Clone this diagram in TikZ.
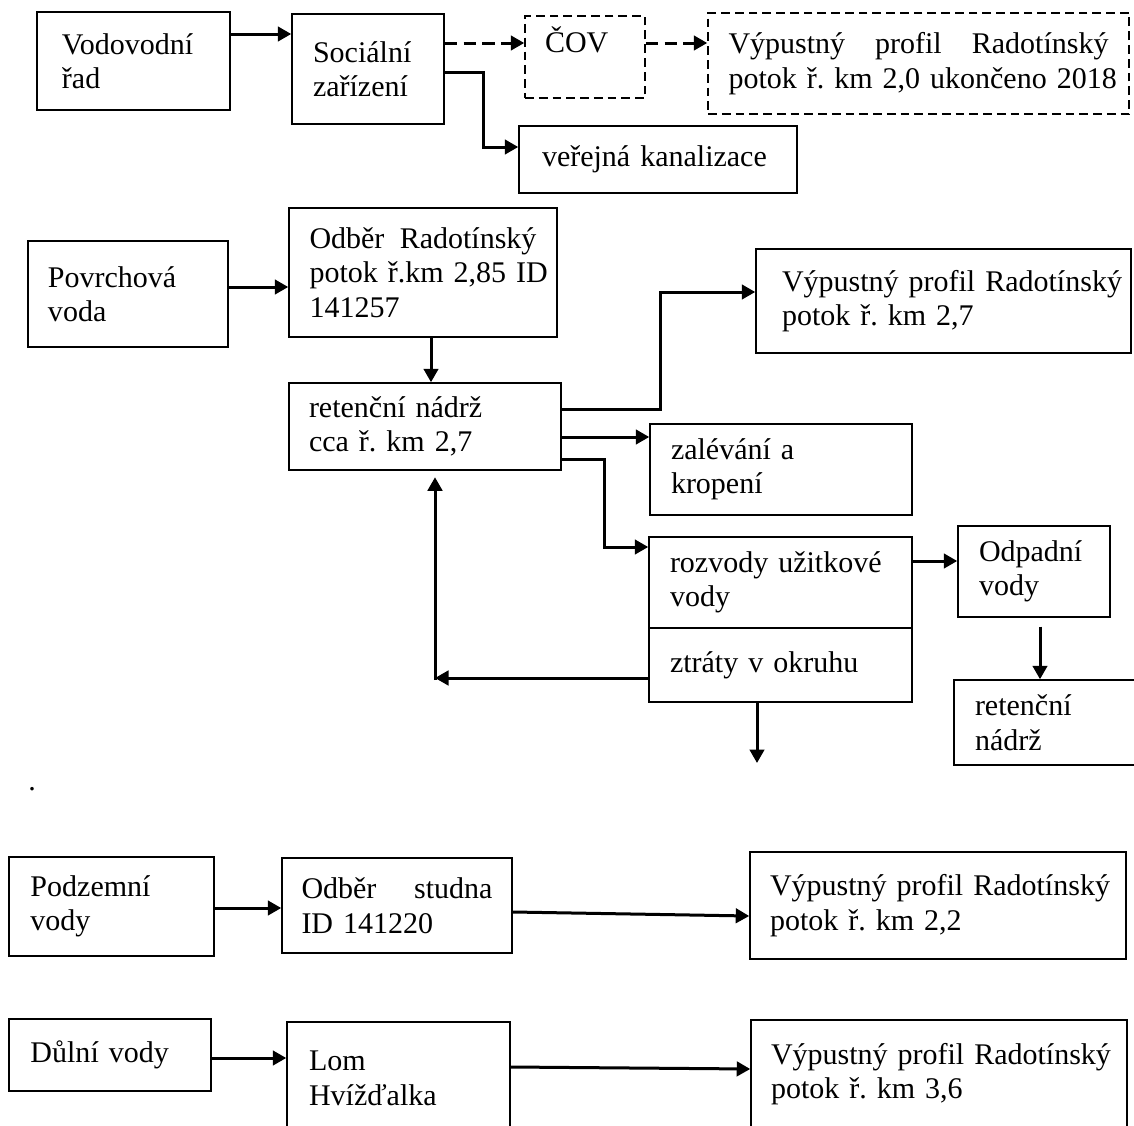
\documentclass[tikz,border=0pt]{standalone}
\usepackage{fontspec}
\setmainfont{Liberation Serif}
\usetikzlibrary{arrows.meta}
\def\oneline#1{\makebox[\hsize][l]{#1}}
\tikzset{
	box/.style={draw, line width=0.6pt, inner sep=0pt, align=left},
	dbox/.style={box, dash pattern=on 3.5pt off 2pt},
	arr/.style={-{Triangle[length=5.4pt,width=5.8pt]}, line width=1.2pt},
	darr/.style={arr, dash pattern=on 5pt off 2.5pt}
}

\begin{document}
\begin{tikzpicture}[x=0.4pt, y=-0.4pt, font=\fontsize{12}{13.8}\selectfont\frenchspacing]
			%%%%% START %%%%%
			\useasboundingbox (0,0) rectangle (1134,1126);
			
			% vodovodni rad
			\node[box, minimum width=77.2pt, minimum height=39.2pt, text width=57.2pt] (vod) at (133.5,61) {Vodovodní\\řad};
			\node[box, minimum width=60.8pt, minimum height=44pt, text width=44pt] (soc) at (368,69) {Sociální\\zařízení};
			\node[dbox, minimum width=48pt, minimum height=32.8pt, text width=32pt, text depth=13.6pt] (cov) at (585,57) {ČOV};
			\node[dbox, minimum width=168.4pt, minimum height=40.4pt, text width=152pt] (vyp1) at (918.5,63.5) {Výpustný \hfill profil \hfill Radotínský\\\oneline{potok ř. km 2,0 ukončeno 2018}};
			\node[box, minimum width=111.2pt, minimum height=26.8pt, text width=92.8pt] (ver) at (658,159.5) {\oneline{veřejná kanalizace}};
			
			\draw[arr] (vod.east |- 0,34) -- (soc.west |- 0,34);
			\draw[darr] (soc.east |- 0,43) -- (cov.west |- 0,43);
			\draw[darr] (cov.east |- 0,43) -- (vyp1.west |- 0,43);
			\draw[arr] (soc.east |- 0,72) -| (483,147) -- (ver.west |- 0,147);
			
			% povrchova voda
			\node[box, minimum width=80pt, minimum height=42.4pt, text width=64pt] (pov) at (128,294) {Povrchová\\voda};
			\node[box, minimum width=107.2pt, minimum height=51.6pt, text width=90.8pt] (odb) at (423,272.5) {Odběr \hfill Radotínský\\\oneline{potok ř.km 2,85 ID}\\141257};
			\node[box, minimum width=108.8pt, minimum height=34.8pt, text width=92.8pt] (ret) at (425,426.5) {\oneline{retenční nádrž}\\cca ř. km 2,7};
			\node[box, minimum width=150pt, minimum height=41.6pt, text width=129.2pt] (vyp2) at (943.5,301) {\oneline{Výpustný profil Radotínský}\\potok ř. km 2,7};
			\node[box, minimum width=104.8pt, minimum height=36.4pt, text width=88pt] (zal) at (781,469.5) {zalévání a\\kropení};
			\node[box, minimum width=105.2pt, minimum height=36.4pt, text width=88.4pt] (roz) at (780.5,582.5) {\oneline{rozvody užitkové}\\vody};
			\node[box, minimum width=105.2pt, minimum height=29.6pt, text width=88.4pt] (ztr) at (780.5,665) {\oneline{ztráty v okruhu}};
			\node[box, minimum width=60.8pt, minimum height=36.4pt, text width=44pt] (odp) at (1034,571.5) {Odpadní\\vody};
			\node[box, minimum width=86.4pt, minimum height=34pt, text width=69.6pt] (ret2) at (1062,722.5) {retenční\\nádrž};
			
			\draw[arr] (pov.east |- 0,287) -- (odb.west |- 0,287);
			\draw[arr] (odb.south -| 431,0) -- (ret.north -| 431,0);
			\draw[arr] (ret.east |- 0,409) -| (660,292) -- (vyp2.west |- 0,292);
			\draw[arr] (ret.east |- 0,437) -- (zal.west |- 0,437);
			\draw[arr] (ret.east |- 0,459) -| (604,547) -- (roz.west |- 0,547);
			\draw[arr] (roz.east |- 0,561) -- (odp.west |- 0,561);
			\draw[arr, shorten <=3.5pt] (odp.south -| 1040,0) -- (ret2.north -| 1040,0);
			
			\coordinate (loop) at (435,678);
			\coordinate (lossout) at (757,763);
			\draw[arr] (ztr.west |- loop) -- (loop);
			\draw[arr, shorten >=2.6pt] ([yshift=-0.8pt]loop) -- (ret.south -| loop);
			\draw[arr] (ztr.south -| lossout) -- (lossout);
			
			\node (dot) at (32,789) {.};
			
			% podzemni vody
			\node[box, minimum width=82pt, minimum height=39.6pt, text width=64.8pt] (pod) at (111.5,906.5) {Podzemní\\vody};
			\node[box, minimum width=92pt, minimum height=38pt, text width=76.4pt] (ods) at (397,905.5) {Odběr \hfill studna\\ID 141220};
			\node[box, minimum width=150.4pt, minimum height=42.8pt, text width=134.4pt] (vyp3) at (938,905.5) {\oneline{Výpustný profil Radotínský}\\potok ř. km 2,2};
			
			\draw[arr] (pod.east |- 0,908) -- (ods.west |- 0,908);
			\draw[arr] (ods.east |- 0,912) -- (vyp3.west |- 0,916);
			
			% dulni vody
			\node[box, minimum width=80.8pt, minimum height=28.8pt, text width=63.6pt] (dul) at (110,1055) {\oneline{Důlní vody}};
			\node[box, minimum width=89.2pt, minimum height=45.2pt, text width=71.6pt] (lom) at (398.5,1078.5) {Lom\\Hvížďalka};
			\node[box, minimum width=150.4pt, minimum height=43.2pt, text width=134.4pt] (vyp4) at (939,1074) {\oneline{Výpustný profil Radotínský}\\potok ř. km 3,6};
			
			\draw[arr] (dul.east |- 0,1058) -- (lom.west |- 0,1058);
			\draw[arr] (lom.east |- 0,1067) -- (vyp4.west |- 0,1069);
			
			%%%%% END %%%%%
\end{tikzpicture}
\end{document}
